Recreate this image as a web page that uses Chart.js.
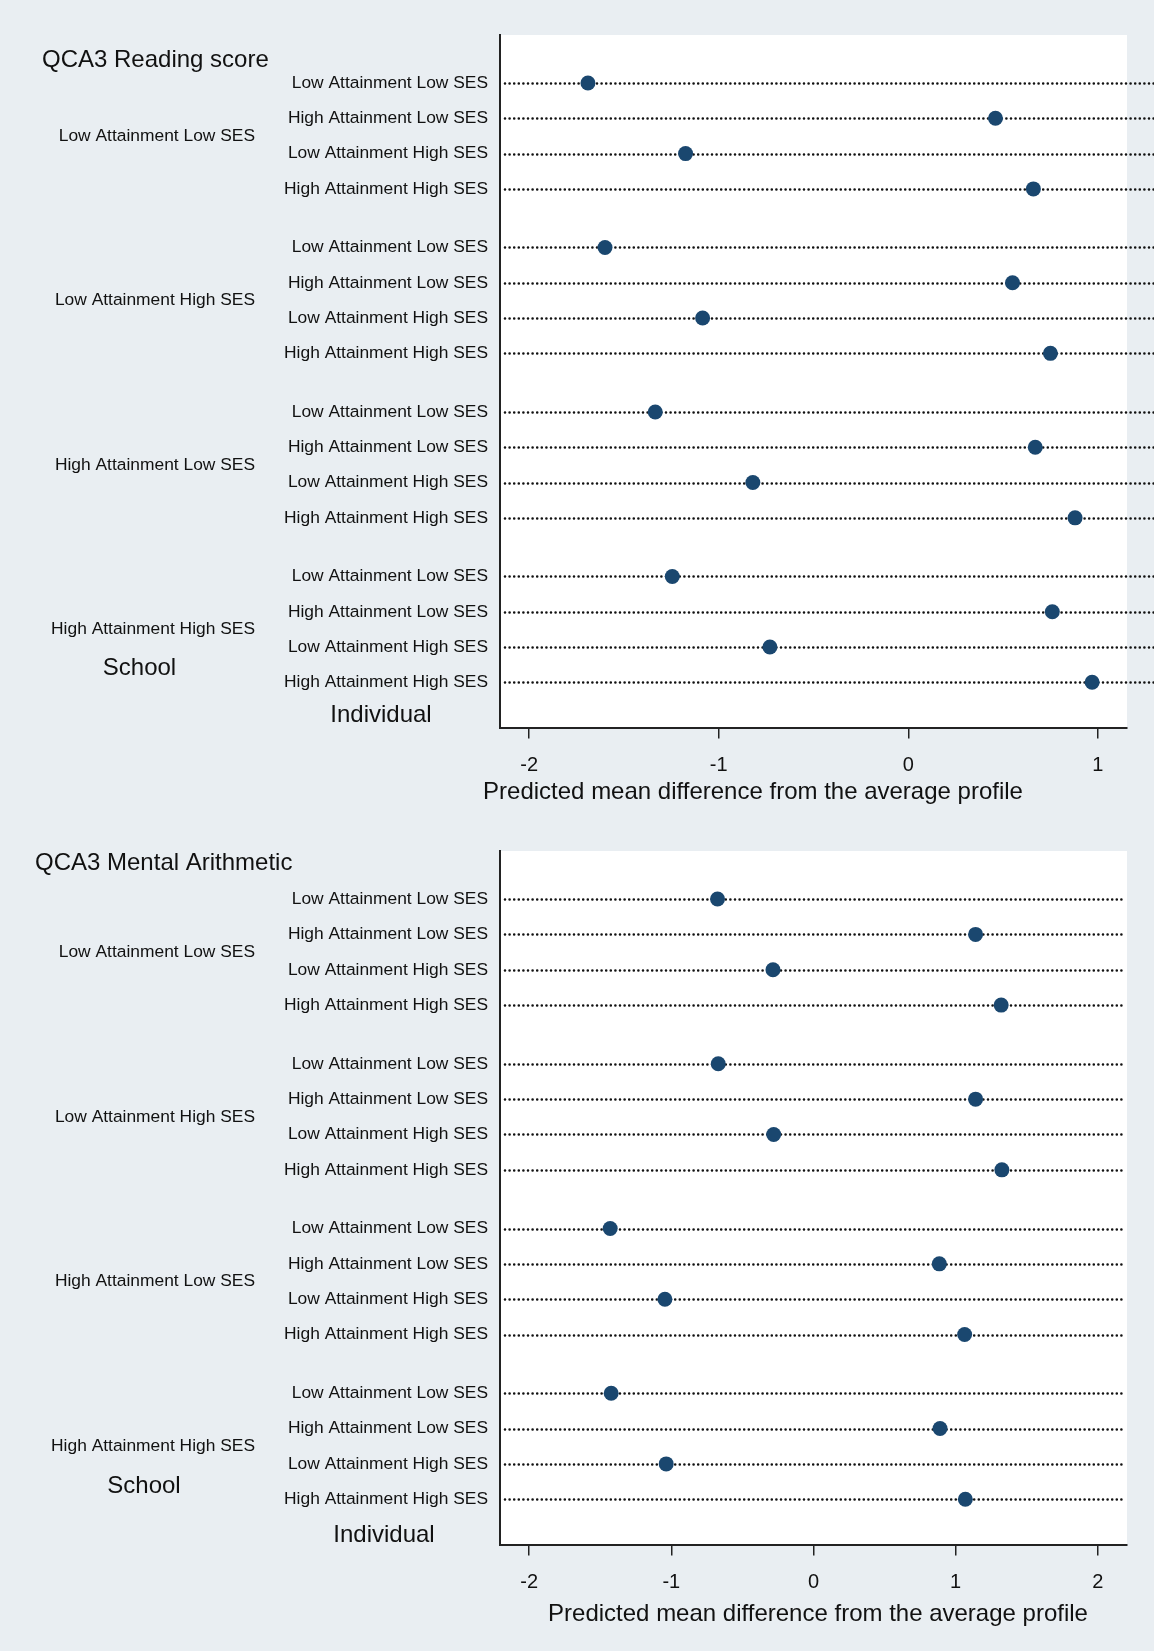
<!DOCTYPE html>
<html>
<head>
<meta charset="utf-8">
<title>QCA3 predicted mean difference</title>
<script src="https://cdn.jsdelivr.net/npm/chart.js@4.4.0/dist/chart.umd.min.js"></script>
<style>
    body { margin: 0; background: #e9eef2; }
    canvas { position: absolute; left: 0; }
</style>
</head>
<body>
<canvas id="readingChart" width="1154" height="826" style="top:0"></canvas>
<canvas id="arithChart" width="1154" height="825" style="top:826px"></canvas>
<script>
// Категории (школа и индивид)
const schoolGroups = ['Low Attainment Low SES', 'Low Attainment High SES', 'High Attainment Low SES', 'High Attainment High SES'];
const individualGroups = ['Low Attainment Low SES', 'High Attainment Low SES', 'Low Attainment High SES', 'High Attainment High SES'];

// QCA3 Reading score, по школьным группам
const readingLowLow = [-1.69, 0.46, -1.175, 0.66];
const readingLowHigh = [-1.60, 0.55, -1.085, 0.75];
const readingHighLow = [-1.335, 0.67, -0.82, 0.88];
const readingHighHigh = [-1.245, 0.76, -0.73, 0.97];

// QCA3 Mental Arithmetic
const arithLowLow = [-0.675, 1.14, -0.285, 1.32];
const arithLowHigh = [-0.67, 1.14, -0.28, 1.325];
const arithHighLow = [-1.43, 0.885, -1.045, 1.063];
const arithHighHigh = [-1.423, 0.89, -1.036, 1.068];

const readingTicks = [-2, -1, 0, 1];
const arithTicks = [-2, -1, 0, 1, 2];

const FONT = '"Liberation Sans", Arial, Helvetica, sans-serif';
const GROUP_STEP = 4.66;
const rowPositions = [];
schoolGroups.forEach((s, g) => individualGroups.forEach((ind, i) => rowPositions.push(g * GROUP_STEP + i)));

// Фон, пунктир и подписи
const decor = {
    id: 'decor',
    beforeDraw(chart) {
        const { ctx, chartArea: a } = chart;
        ctx.save();
        ctx.fillStyle = '#ffffff';
        ctx.fillRect(a.left, a.top, a.right - a.left, a.bottom - a.top);
        ctx.restore();
    },
    beforeDatasetsDraw(chart, args, opts) {
        const { ctx, chartArea: a } = chart;
        const y = chart.scales.y;
        const end = opts.lineToEdge ? chart.width : a.right - 2;
        ctx.save();
        ctx.strokeStyle = '#111';
        ctx.lineWidth = 2.6;
        ctx.lineCap = 'round';
        ctx.setLineDash([0, 4.6]);
        y.ticks.forEach(t => {
            const py = Math.round(y.getPixelForValue(t.value)) + 0.5;
            ctx.beginPath();
            ctx.moveTo(a.left + 5, py);
            ctx.lineTo(end, py);
            ctx.stroke();
        });
        ctx.restore();
    },
    afterDraw(chart, args, opts) {
        const ctx = chart.ctx;
        const y = chart.scales.y;
        ctx.save();
        ctx.fillStyle = '#111';
        ctx.textBaseline = 'middle';

        ctx.font = '24px ' + FONT;
        ctx.textAlign = 'left';
        ctx.fillText(opts.title, opts.titleX, opts.titleY);

        ctx.font = '17.4px ' + FONT;
        ctx.textAlign = 'right';
        schoolGroups.forEach((label, g) => {
            ctx.fillText(label, opts.groupX, y.getPixelForValue(g * GROUP_STEP + 1.5));
        });

        ctx.font = '24px ' + FONT;
        ctx.textAlign = 'center';
        ctx.fillText('School', opts.schoolX, opts.schoolY);
        ctx.fillText('Individual', opts.indivX, opts.indivY);
        ctx.fillText('Predicted mean difference from the average profile', opts.axisTitleX, opts.axisTitleY);
        ctx.restore();
    }
};

function makePanel(id, series, ticks, xMin, xMax, padTop, xAxisHeight, decorOpts) {
    const points = [];
    series.forEach((vals, g) => vals.forEach((v, i) => points.push({ x: v, y: g * GROUP_STEP + i })));

    return new Chart(document.getElementById(id), {
        type: 'scatter',
        data: {
            datasets: [{
                data: points,
                backgroundColor: '#1a476f',
                borderColor: '#1a476f',
                borderWidth: 0,
                pointRadius: 7.5,
                pointHoverRadius: 7.5
            }]
        },
        options: {
            responsive: false,
            animation: false,
            events: [],
            layout: { padding: { top: padTop, right: 27, left: 0, bottom: 0 } },
            plugins: {
                legend: { display: false },
                tooltip: { enabled: false },
                decor: decorOpts
            },
            scales: {
                x: {
                    type: 'linear',
                    min: xMin,
                    max: xMax,
                    afterBuildTicks: s => { s.ticks = ticks.map(v => ({ value: v })); },
                    afterFit: s => { s.height = xAxisHeight; },
                    grid: { drawOnChartArea: false, drawTicks: true, tickLength: 11, color: '#222', lineWidth: 1.5 },
                    border: { display: true, color: '#222', width: 2 },
                    ticks: { font: { size: 20, family: FONT }, color: '#111', padding: 15, maxRotation: 0 }
                },
                y: {
                    type: 'linear',
                    reverse: true,
                    min: -1.36,
                    max: 3 * GROUP_STEP + 3 + 1.28,
                    afterBuildTicks: s => { s.ticks = rowPositions.map(v => ({ value: v })); },
                    afterFit: s => { s.width = 500; },
                    grid: { drawOnChartArea: false, drawTicks: false },
                    border: { display: true, color: '#222', width: 2 },
                    ticks: {
                        autoSkip: false,
                        padding: 12,
                        font: { size: 17.4, family: FONT },
                        color: '#111',
                        callback: (v, i) => individualGroups[i % individualGroups.length]
                    }
                }
            }
        },
        plugins: [decor]
    });
}

makePanel('readingChart',
    [readingLowLow, readingLowHigh, readingHighLow, readingHighHigh],
    readingTicks, -2.154, 1.154, 35, 98.5,
    { title: 'QCA3 Reading score', titleX: 42, titleY: 60, groupX: 255,
      schoolX: 139.5, schoolY: 668, indivX: 381, indivY: 715,
      axisTitleX: 753, axisTitleY: 792, lineToEdge: true });

makePanel('arithChart',
    [arithLowLow, arithLowHigh, arithHighLow, arithHighHigh],
    arithTicks, -2.205, 2.205, 25, 106.5,
    { title: 'QCA3 Mental Arithmetic', titleX: 35, titleY: 37, groupX: 255,
      schoolX: 144, schoolY: 660, indivX: 384, indivY: 709,
      axisTitleX: 818, axisTitleY: 788, lineToEdge: false });
</script>
</body>
</html>
